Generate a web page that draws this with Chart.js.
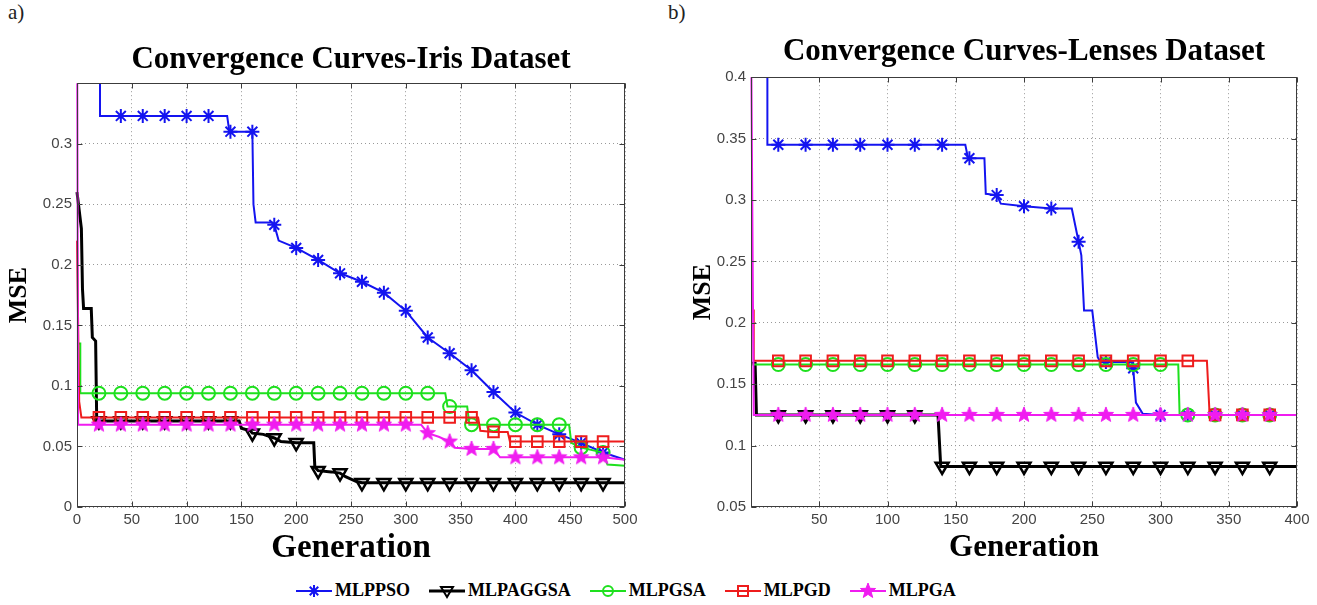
<!DOCTYPE html>
<html lang="en">
<head>
<meta charset="UTF-8">
<title>Convergence Curves</title>
<style>
    body {
        margin: 0;
        width: 1317px;
        height: 605px;
        overflow: hidden;
        position: relative;
        background: #fff;
        font-family: 'Liberation Serif', serif;
    }
    .panel-tag {
        position: absolute;
        top: 0;
        font-size: 21px;
        color: #222;
    }
    #chartA { position: absolute; left: 0; top: 20px; }
    #chartB { position: absolute; left: 667px; top: 20px; }
    .legend {
        position: absolute;
        left: 296px;
        top: 580px;
        display: flex;
        align-items: center;
    }
    .legend-item {
        display: flex;
        align-items: center;
        margin-right: 19px;
        font-weight: bold;
        font-size: 18px;
        color: #000;
    }
    .legend-item canvas { margin-right: 3px; }
</style>
<script src="https://cdn.jsdelivr.net/npm/chart.js"></script>
</head>
<body>
<div class="panel-tag" style="left:8px">a)</div>
<div class="panel-tag" style="left:668px">b)</div>
<canvas id="chartA" width="650" height="560"></canvas>
<canvas id="chartB" width="650" height="560"></canvas>
<div class="legend" id="legend"></div>

<script>
    // series shared by both panels
    const seriesNames = ['MLPPSO', 'MLPAGGSA', 'MLPGSA', 'MLPGD', 'MLPGA'];
    const seriesColors = ['#1414f0', '#000000', '#1ee01e', '#ee1c1c', '#f01cf0'];

    // ---- a) Iris dataset ----
    const irisPsoGen = [0, 21, 21, 40, 60, 80, 100, 120, 137, 139, 140, 160, 161, 163, 178, 180, 184, 200, 220, 240, 260, 280, 300, 320, 340, 360, 380, 400, 420, 440, 460, 480, 500];
    const irisPsoMse = [0.5, 0.5, 0.323, 0.323, 0.323, 0.323, 0.323, 0.323, 0.323, 0.31, 0.31, 0.31, 0.25, 0.235, 0.235, 0.233, 0.22, 0.214, 0.204, 0.193, 0.186, 0.177, 0.162, 0.14, 0.127, 0.113, 0.095, 0.078, 0.068, 0.06, 0.053, 0.045, 0.039];
    const irisPsoMarks = [40, 60, 80, 100, 120, 140, 160, 180, 200, 220, 240, 260, 280, 300, 320, 340, 360, 380, 400, 420, 440, 460, 480];

    const irisAggsaGen = [0, 4, 5, 6, 13, 14, 17, 18, 20, 40, 60, 80, 100, 120, 140, 148, 150, 158, 160, 170, 180, 186, 200, 216, 217, 220, 232, 240, 245, 255, 260, 280, 300, 320, 340, 360, 380, 400, 420, 440, 460, 480, 500];
    const irisAggsaMse = [0.26, 0.23, 0.18, 0.164, 0.164, 0.14, 0.137, 0.071, 0.071, 0.071, 0.071, 0.071, 0.071, 0.071, 0.071, 0.071, 0.065, 0.063, 0.061, 0.06, 0.057, 0.054, 0.053, 0.053, 0.033, 0.03, 0.029, 0.028, 0.025, 0.021, 0.02, 0.02, 0.02, 0.02, 0.02, 0.02, 0.02, 0.02, 0.02, 0.02, 0.02, 0.02, 0.02];
    const irisAggsaMarks = [20, 40, 60, 80, 100, 120, 140, 160, 180, 200, 220, 240, 260, 280, 300, 320, 340, 360, 380, 400, 420, 440, 460, 480];

    const irisGsaGen = [0, 3, 3, 20, 40, 60, 80, 100, 120, 140, 160, 180, 200, 220, 240, 260, 280, 300, 320, 336, 338, 340, 356, 358, 360, 380, 400, 420, 440, 449, 451, 460, 480, 484, 500];
    const irisGsaMse = [0.135, 0.135, 0.094, 0.094, 0.094, 0.094, 0.094, 0.094, 0.094, 0.094, 0.094, 0.094, 0.094, 0.094, 0.094, 0.094, 0.094, 0.094, 0.094, 0.094, 0.083, 0.083, 0.083, 0.068, 0.068, 0.068, 0.068, 0.068, 0.068, 0.068, 0.053, 0.049, 0.045, 0.035, 0.034];
    const irisGsaMarks = [20, 40, 60, 80, 100, 120, 140, 160, 180, 200, 220, 240, 260, 280, 300, 320, 340, 360, 380, 400, 420, 440, 460, 480];

    const irisGdGen = [0, 2, 4, 20, 40, 60, 80, 100, 120, 140, 160, 180, 200, 220, 240, 260, 280, 300, 320, 340, 360, 366, 368, 380, 393, 395, 400, 420, 440, 460, 480, 500];
    const irisGdMse = [0.22, 0.087, 0.074, 0.074, 0.074, 0.074, 0.074, 0.074, 0.074, 0.074, 0.074, 0.074, 0.074, 0.074, 0.074, 0.074, 0.074, 0.074, 0.074, 0.074, 0.074, 0.074, 0.063, 0.062, 0.062, 0.054, 0.054, 0.054, 0.054, 0.054, 0.054, 0.054];
    const irisGdMarks = [20, 40, 60, 80, 100, 120, 140, 160, 180, 200, 220, 240, 260, 280, 300, 320, 340, 360, 380, 400, 420, 440, 460, 480];

    const irisGaGen = [0, 1, 20, 40, 60, 80, 100, 120, 140, 160, 180, 200, 220, 240, 260, 280, 300, 314, 320, 330, 340, 345, 360, 380, 386, 400, 420, 440, 460, 480, 500];
    const irisGaMse = [0.45, 0.068, 0.068, 0.068, 0.068, 0.068, 0.068, 0.068, 0.068, 0.068, 0.068, 0.068, 0.068, 0.068, 0.068, 0.068, 0.068, 0.068, 0.061, 0.058, 0.054, 0.049, 0.048, 0.048, 0.041, 0.041, 0.041, 0.041, 0.041, 0.041, 0.039];
    const irisGaMarks = [20, 40, 60, 80, 100, 120, 140, 160, 180, 200, 220, 240, 260, 280, 300, 320, 340, 360, 380, 400, 420, 440, 460, 480];

    // ---- b) Lenses dataset ----
    const lensesPsoGen = [0, 12, 12, 20, 40, 60, 80, 100, 120, 140, 157, 159, 160, 171, 172, 180, 183, 200, 220, 235, 240, 242, 244, 250, 254, 256, 260, 279, 280, 282, 287, 300, 320, 340, 360, 380, 400];
    const lensesPsoMse = [0.5, 0.5, 0.345, 0.345, 0.345, 0.345, 0.345, 0.345, 0.345, 0.345, 0.345, 0.334, 0.334, 0.334, 0.305, 0.304, 0.297, 0.295, 0.293, 0.293, 0.266, 0.255, 0.21, 0.21, 0.172, 0.168, 0.168, 0.168, 0.163, 0.135, 0.126, 0.125, 0.125, 0.125, 0.125, 0.125, 0.125];
    const lensesPsoMarks = [20, 40, 60, 80, 100, 120, 140, 160, 180, 200, 220, 240, 260, 280, 300, 320, 340, 360, 380];

    const lensesAggsaGen = [0, 3, 4, 20, 40, 60, 80, 100, 120, 137, 139, 140, 160, 180, 200, 220, 240, 260, 280, 300, 320, 340, 360, 380, 400];
    const lensesAggsaMse = [0.167, 0.167, 0.125, 0.125, 0.125, 0.125, 0.125, 0.125, 0.125, 0.125, 0.083, 0.083, 0.083, 0.083, 0.083, 0.083, 0.083, 0.083, 0.083, 0.083, 0.083, 0.083, 0.083, 0.083, 0.083];
    const lensesAggsaMarks = [20, 40, 60, 80, 100, 120, 140, 160, 180, 200, 220, 240, 260, 280, 300, 320, 340, 360, 380];

    const lensesGsaGen = [0, 20, 40, 60, 80, 100, 120, 140, 160, 180, 200, 220, 240, 260, 280, 300, 313, 314, 320, 340, 360, 380, 400];
    const lensesGsaMse = [0.166, 0.166, 0.166, 0.166, 0.166, 0.166, 0.166, 0.166, 0.166, 0.166, 0.166, 0.166, 0.166, 0.166, 0.166, 0.166, 0.166, 0.125, 0.125, 0.125, 0.125, 0.125, 0.125];
    const lensesGsaMarks = [20, 40, 60, 80, 100, 120, 140, 160, 180, 200, 220, 240, 260, 280, 300, 320, 340, 360, 380];

    const lensesGdGen = [0, 2, 2, 20, 40, 60, 80, 100, 120, 140, 160, 180, 200, 220, 240, 260, 280, 300, 320, 334, 336, 340, 360, 380, 400];
    const lensesGdMse = [0.21, 0.21, 0.169, 0.169, 0.169, 0.169, 0.169, 0.169, 0.169, 0.169, 0.169, 0.169, 0.169, 0.169, 0.169, 0.169, 0.169, 0.169, 0.169, 0.169, 0.125, 0.125, 0.125, 0.125, 0.125];
    const lensesGdMarks = [20, 40, 60, 80, 100, 120, 140, 160, 180, 200, 220, 240, 260, 280, 300, 320, 340, 360, 380];

    const lensesGaGen = [0, 2, 20, 40, 60, 80, 100, 120, 140, 160, 180, 200, 220, 240, 260, 280, 300, 320, 340, 360, 380, 400];
    const lensesGaMse = [0.45, 0.125, 0.125, 0.125, 0.125, 0.125, 0.125, 0.125, 0.125, 0.125, 0.125, 0.125, 0.125, 0.125, 0.125, 0.125, 0.125, 0.125, 0.125, 0.125, 0.125, 0.125];
    const lensesGaMarks = [20, 40, 60, 80, 100, 120, 140, 160, 180, 200, 220, 240, 260, 280, 300, 320, 340, 360, 380];

    // filled five-point star (matlab 'p' marker)
    function pentagram(color, r) {
        const c = document.createElement('canvas');
        const s = Math.ceil(r * 2 + 4);
        c.width = s; c.height = s;
        const g = c.getContext('2d');
        g.beginPath();
        for (let i = 0; i < 10; i++) {
            const a = -Math.PI / 2 + i * Math.PI / 5;
            const rr = i % 2 ? r * 0.42 : r;
            g.lineTo(s / 2 + rr * Math.cos(a), s / 2 + rr * Math.sin(a));
        }
        g.closePath();
        g.fillStyle = color;
        g.fill();
        g.strokeStyle = color;
        g.lineWidth = 1;
        g.stroke();
        return c;
    }

    const gaStar = pentagram(seriesColors[4], 8);
    const markerStyles = ['star', 'triangle', 'circle', 'rect', gaStar];
    const markerSizes = [7, 7.5, 6.5, 7.5, 8];

    function makeSet(i, gens, mse, marks) {
        return {
            label: seriesNames[i],
            data: gens.map((g, k) => ({ x: g, y: mse[k] })),
            borderColor: seriesColors[i],
            borderWidth: i === 1 ? 3 : 2,
            pointStyle: markerStyles[i],
            pointRotation: i === 1 ? 180 : 0,
            pointRadius: ctx => (ctx.raw && marks.includes(ctx.raw.x)) ? markerSizes[i] : 0,
            pointHoverRadius: 0,
            pointBorderColor: seriesColors[i],
            pointBackgroundColor: i === 4 ? seriesColors[i] : 'rgba(0,0,0,0)',
            pointBorderWidth: i === 1 ? 2.5 : 2,
            order: 5 - i,
            tension: 0,
            fill: false,
            clip: { left: 2, right: 2, top: 0, bottom: 0 }
        };
    }

    const tickFont = { family: 'Liberation Sans', size: 15 };

    function makeScales(xMax, yMin, yMax, yWidth, mseOffset, hideTopY, hideZeroX, genSize, genPad) {
        return {
            x: {
                type: 'linear',
                min: 0,
                max: xMax,
                afterFit: s => { s.height = 73; },
                ticks: {
                    stepSize: 50,
                    color: '#444',
                    font: tickFont,
                    padding: 4,
                    maxRotation: 0,
                    callback: v => (hideZeroX && v === 0) ? '' : String(v)
                },
                grid: { color: '#999', lineWidth: 1, drawTicks: false },
                border: { display: false, dash: [1, 3] },
                title: {
                    display: true, text: 'Generation', color: '#000',
                    font: { family: 'Liberation Serif', size: genSize, weight: 'bold' },
                    padding: { top: 0, bottom: genPad }
                }
            },
            y: {
                type: 'linear',
                min: yMin,
                max: yMax,
                afterFit: s => { s.width = yWidth; },
                ticks: {
                    stepSize: 0.05,
                    color: '#444',
                    font: tickFont,
                    padding: 5,
                    callback: v => (hideTopY && Math.abs(v - yMax) < 1e-9) ? '' : String(+v.toFixed(2))
                },
                grid: { color: '#999', lineWidth: 1, drawTicks: false },
                border: { display: false, dash: [1, 3] },
                title: {
                    display: true, text: 'MSE', color: '#000',
                    font: { family: 'Liberation Serif', size: 26, weight: 'bold' },
                    padding: { top: mseOffset, bottom: 0 }
                }
            }
        };
    }

    // axes box with inward tick marks on all four sides
    const framePlugin = {
        id: 'frame',
        afterDatasetsDraw(chart) {
            const { ctx, chartArea: a, scales: { x, y } } = chart;
            const l = Math.round(a.left) + 0.5, r = Math.round(a.right) - 0.5;
            const t = Math.round(a.top) + 0.5, b = Math.round(a.bottom) - 0.5;
            ctx.save();
            ctx.strokeStyle = '#3c3c3c';
            ctx.lineWidth = 1;
            ctx.strokeRect(l, t, r - l, b - t);
            ctx.beginPath();
            x.ticks.forEach(tk => {
                const px = Math.round(x.getPixelForValue(tk.value)) + 0.5;
                ctx.moveTo(px, b); ctx.lineTo(px, b - 5);
                ctx.moveTo(px, t); ctx.lineTo(px, t + 5);
            });
            y.ticks.forEach(tk => {
                const py = Math.round(y.getPixelForValue(tk.value)) + 0.5;
                ctx.moveTo(l, py); ctx.lineTo(l + 5, py);
                ctx.moveTo(r, py); ctx.lineTo(r - 5, py);
            });
            ctx.stroke();
            ctx.restore();
        }
    };

    function makeChart(id, title, titlePad, rightPad, sets, scales) {
        return new Chart(document.getElementById(id), {
            type: 'line',
            data: { datasets: sets },
            options: {
                responsive: false,
                animation: false,
                layout: { padding: { left: 0, right: rightPad, top: 0, bottom: 0 } },
                scales: scales,
                plugins: {
                    legend: { display: false },
                    tooltip: { enabled: false },
                    title: {
                        display: true,
                        text: title,
                        fullSize: false,
                        color: '#000',
                        font: { family: 'Liberation Serif', size: 31, weight: 'bold' },
                        padding: titlePad
                    }
                }
            },
            plugins: [framePlugin]
        });
    }

    makeChart('chartA', 'Convergence Curves-Iris Dataset', { top: 21, bottom: 5 }, 25, [
        makeSet(0, irisPsoGen, irisPsoMse, irisPsoMarks),
        makeSet(1, irisAggsaGen, irisAggsaMse, irisAggsaMarks),
        makeSet(2, irisGsaGen, irisGsaMse, irisGsaMarks),
        makeSet(3, irisGdGen, irisGdMse, irisGdMarks),
        makeSet(4, irisGaGen, irisGaMse, irisGaMarks)
    ], makeScales(500, 0, 0.35, 77, 4, true, false, 33, 12));

    makeChart('chartB', 'Convergence Curves-Lenses Dataset', { top: 13, bottom: 7 }, 20, [
        makeSet(0, lensesPsoGen, lensesPsoMse, lensesPsoMarks),
        makeSet(1, lensesAggsaGen, lensesAggsaMse, lensesAggsaMarks),
        makeSet(2, lensesGsaGen, lensesGsaMse, lensesGsaMarks),
        makeSet(3, lensesGdGen, lensesGdMse, lensesGdMarks),
        makeSet(4, lensesGaGen, lensesGaMse, lensesGaMarks)
    ], makeScales(400, 0.05, 0.4, 84, 21, false, true, 31, 13));

    // legend: line with marker in the middle
    function drawLegendIcon(g, i) {
        const cx = 18, cy = 9, col = seriesColors[i];
        g.strokeStyle = col;
        g.lineWidth = i === 1 ? 3 : 2;
        g.beginPath(); g.moveTo(0, cy); g.lineTo(36, cy); g.stroke();
        g.lineWidth = 2;
        g.beginPath();
        if (i === 0) {
            for (let k = 0; k < 4; k++) {
                const a = k * Math.PI / 4;
                g.moveTo(cx - 6 * Math.cos(a), cy - 6 * Math.sin(a));
                g.lineTo(cx + 6 * Math.cos(a), cy + 6 * Math.sin(a));
            }
            g.stroke();
        } else if (i === 1) {
            g.moveTo(cx, cy + 6); g.lineTo(cx - 6, cy - 4); g.lineTo(cx + 6, cy - 4); g.closePath();
            g.stroke();
        } else if (i === 2) {
            g.arc(cx, cy, 5, 0, Math.PI * 2);
            g.stroke();
        } else if (i === 3) {
            g.rect(cx - 5, cy - 5, 10, 10);
            g.stroke();
        } else {
            g.drawImage(gaStar, cx - gaStar.width / 2, cy - gaStar.height / 2);
        }
    }

    const legendEl = document.getElementById('legend');
    seriesNames.forEach((name, i) => {
        const item = document.createElement('div');
        item.className = 'legend-item';
        const c = document.createElement('canvas');
        c.width = 36; c.height = 18;
        drawLegendIcon(c.getContext('2d'), i);
        item.appendChild(c);
        const span = document.createElement('span');
        span.textContent = name;
        item.appendChild(span);
        legendEl.appendChild(item);
    });
</script>
</body>
</html>
